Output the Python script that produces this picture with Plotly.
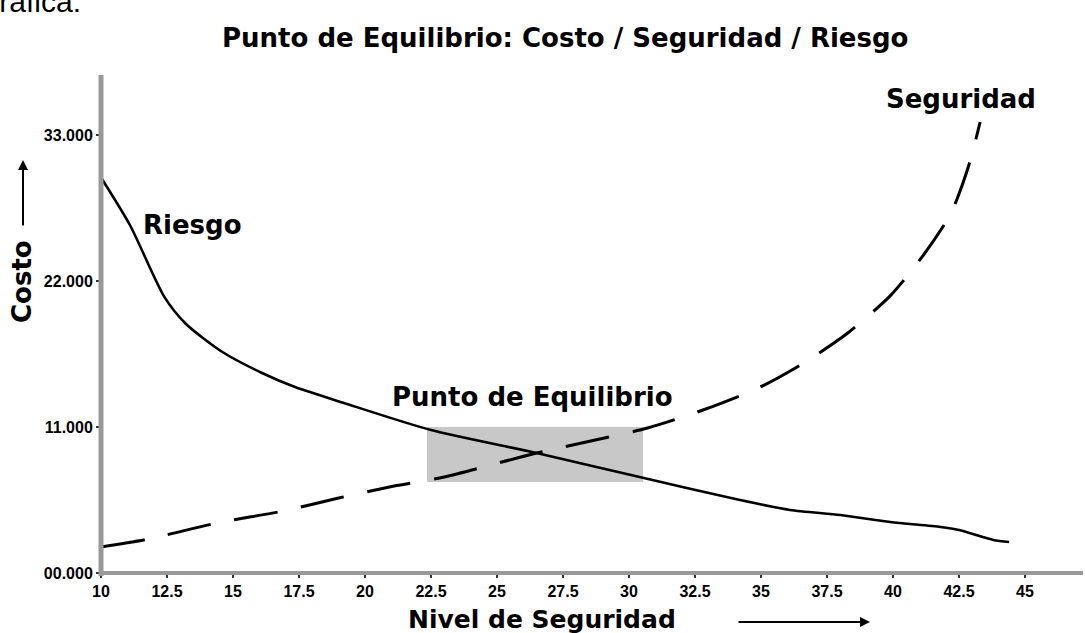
import plotly.graph_objects as go

# ---------------- data ----------------
riesgo_x = [10.0, 11.1, 12.4, 13.2, 14.6, 16.1, 17.35, 19.2, 22.5, 26.5, 30.4,
            34.2, 36.1, 38.0, 39.9, 41.8, 42.5, 43.8, 44.4]
riesgo_y = [29800, 26200, 20800, 18800, 16650, 15070, 14010, 12810, 10770, 9040, 7230,
            5500, 4750, 4370, 3840, 3470, 3240, 2490, 2340]

seguridad_x = [10.0, 11.8, 14.4, 16.9, 19.0, 21.1, 23.0, 26.5, 30.7, 32.8, 34.9, 36.6,
               38.3, 39.9, 41.1, 42.2, 42.9, 43.3]
seguridad_y = [1960, 2560, 3770, 4670, 5650, 6550, 7230, 9040, 10920, 12280, 13940, 15800,
               18100, 20900, 23810, 27120, 30890, 33980]

equilibrio_x = [22.35, 30.53]
equilibrio_y = [6860, 11000]

x_ticks = [10, 12.5, 15, 17.5, 20, 22.5, 25, 27.5, 30, 32.5, 35, 37.5, 40, 42.5, 45]
x_tick_labels = ["10", "12.5", "15", "17.5", "20", "22.5", "25", "27.5", "30", "32.5",
                 "35", "37.5", "40", "42.5", "45"]
y_ticks = [0, 11000, 22000, 33000]
y_tick_labels = ["00.000", "11.000", "22.000", "33.000"]

title_text = "Punto de Equilibrio: Costo / Seguridad / Riesgo"
x_title = "Nivel de Seguridad"
y_title = "Costo"

# ---------------- layout geometry ----------------
W, H = 1085, 633
L, R, T, B = 101, 2, 75, 60
PW, PH = W - L - R, H - T - B


def px(xp):
    return (xp - L) / PW


def py(yp):
    return (H - B - yp) / PH


BIG = dict(family="DejaVu Sans", size=26, color="black")
BIG_W = "<b>{}</b>"

fig = go.Figure()

fig.add_trace(go.Scatter(x=riesgo_x, y=riesgo_y, mode="lines", name="Riesgo",
                         line=dict(color="black", width=2.6, shape="spline", smoothing=0.7)))
fig.add_trace(go.Scatter(x=seguridad_x, y=seguridad_y, mode="lines", name="Seguridad",
                         line=dict(color="black", width=3, dash="44px,24px",
                                   shape="spline", smoothing=0.7)))

shapes = [
    dict(type="rect", xref="x", yref="y", x0=equilibrio_x[0], x1=equilibrio_x[1],
         y0=equilibrio_y[0], y1=equilibrio_y[1], fillcolor="#c8c8c8",
         line=dict(width=0), layer="below"),
    dict(type="line", xref="paper", yref="paper", x0=0, x1=0, y0=-0.006, y1=1,
         line=dict(color="#999999", width=5)),
    dict(type="line", xref="paper", yref="paper", x0=0, x1=1, y0=0, y1=0,
         line=dict(color="#999999", width=4)),
]

annotations = [
    dict(text="Gráfica:", xref="paper", yref="paper", x=px(83), y=py(2), xanchor="right",
         yanchor="middle", showarrow=False,
         font=dict(family="Liberation Sans", size=30, color="black")),
    dict(text=BIG_W.format(title_text), xref="paper", yref="paper", x=px(565), y=py(38),
         xanchor="center", yanchor="middle", showarrow=False, font=BIG),
    dict(text=BIG_W.format("Riesgo"), xref="x", yref="y", x=13.45, y=26200,
         xanchor="center", yanchor="middle", showarrow=False, font=BIG),
    dict(text=BIG_W.format("Punto de Equilibrio"), xref="x", yref="y", x=26.36, y=13260,
         xanchor="center", yanchor="middle", showarrow=False, font=BIG),
    dict(text=BIG_W.format("Seguridad"), xref="x", yref="y", x=42.58, y=35710,
         xanchor="center", yanchor="middle", showarrow=False, font=BIG),
    dict(text=BIG_W.format(x_title), xref="paper", yref="paper", x=px(542), y=py(619),
         xanchor="center", yanchor="middle", showarrow=False,
         font=dict(family="DejaVu Sans", size=25, color="black")),
    dict(text=BIG_W.format(y_title), xref="paper", yref="paper", x=px(22), y=py(282),
         xanchor="center", yanchor="middle", showarrow=False, textangle=-90, font=BIG),
    # x-title arrow
    dict(text="", xref="paper", yref="paper", x=px(870), y=py(622), ax=-133, ay=0,
         axref="pixel", ayref="pixel", showarrow=True, arrowhead=2, arrowsize=1,
         arrowwidth=2, arrowcolor="black"),
    # y-title arrow
    dict(text="", xref="paper", yref="paper", x=px(23), y=py(160), ax=0, ay=67,
         axref="pixel", ayref="pixel", showarrow=True, arrowhead=2, arrowsize=1,
         arrowwidth=2, arrowcolor="black"),
    # axis end caps
    dict(text="", xref="paper", yref="paper", x=px(101), y=py(74), ax=0, ay=4,
         axref="pixel", ayref="pixel", showarrow=True, arrowhead=2, arrowsize=1,
         arrowwidth=2, arrowcolor="black"),
    dict(text="", xref="paper", yref="paper", x=px(1084), y=py(574), ax=-4, ay=0,
         axref="pixel", ayref="pixel", showarrow=True, arrowhead=2, arrowsize=1,
         arrowwidth=2, arrowcolor="black"),
]

tickfont = dict(family="Liberation Sans", size=16, color="black")

fig.update_layout(
    width=W, height=H,
    margin=dict(l=L, r=R, t=T, b=B, pad=0),
    paper_bgcolor="white", plot_bgcolor="white",
    showlegend=False,
    shapes=shapes,
    annotations=annotations,
    xaxis=dict(range=[10, 10 + (1083 - 101) / 26.4], showgrid=False, zeroline=False,
               showline=False, tickmode="array", tickvals=x_ticks,
               ticktext=["<b>%s</b>" % t for t in x_tick_labels],
               ticks="outside", ticklen=4, tickwidth=2, tickcolor="#333333",
               tickfont=tickfont),
    yaxis=dict(range=[0, (573 - 75) * 11000 / 146], showgrid=False, zeroline=False,
               showline=False, tickmode="array", tickvals=y_ticks,
               ticktext=["<b>%s</b>" % t for t in y_tick_labels],
               ticks="outside", ticklen=4, tickwidth=2, tickcolor="#333333",
               tickfont=tickfont),
)

fig.write_html("out.html", config={"displayModeBar": False},
               post_script="document.body.style.margin='0';document.body.style.overflow='hidden';")
